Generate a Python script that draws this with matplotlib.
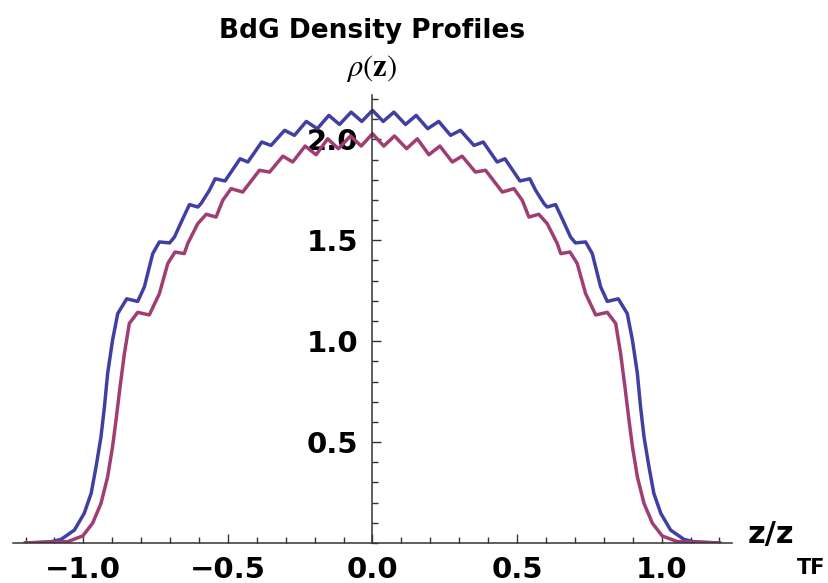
import numpy as np
import matplotlib
matplotlib.use("Agg")
import matplotlib.pyplot as plt
from matplotlib.ticker import MultipleLocator, FixedLocator

plt.rcParams['mathtext.fontset'] = 'stix'

# right half of each profile (the plot is symmetric in z)
z_blue = [0.000, 0.037, 0.074, 0.114, 0.151, 0.191, 0.229, 0.270, 0.304, 0.351,
          0.383, 0.431, 0.458, 0.510, 0.544, 0.564, 0.593, 0.604, 0.633, 0.656,
          0.685, 0.702, 0.737, 0.760, 0.789, 0.812, 0.850, 0.881, 0.899, 0.916,
          0.927, 0.939, 0.956, 0.973, 0.997, 1.031, 1.077, 1.112, 1.200]
rho_blue = [2.144, 2.089, 2.135, 2.074, 2.119, 2.053, 2.089, 2.020, 2.045, 1.970,
            1.987, 1.888, 1.904, 1.794, 1.805, 1.748, 1.682, 1.665, 1.677, 1.607,
            1.516, 1.487, 1.492, 1.434, 1.269, 1.197, 1.210, 1.137, 1.005, 0.840,
            0.675, 0.526, 0.378, 0.246, 0.147, 0.064, 0.018, 0.006, 0.000]

z_red = [0.000, 0.039, 0.076, 0.118, 0.155, 0.195, 0.233, 0.276, 0.310, 0.356,
         0.391, 0.449, 0.489, 0.518, 0.541, 0.575, 0.604, 0.639, 0.651, 0.683,
         0.708, 0.737, 0.772, 0.812, 0.841, 0.858, 0.873, 0.887, 0.899, 0.916,
         0.939, 0.968, 1.002, 1.054, 1.200]
rho_red = [2.028, 1.967, 2.017, 1.954, 2.003, 1.924, 1.967, 1.888, 1.917, 1.838,
           1.847, 1.739, 1.756, 1.698, 1.615, 1.629, 1.583, 1.484, 1.434, 1.442,
           1.385, 1.236, 1.130, 1.143, 1.088, 0.939, 0.774, 0.609, 0.477, 0.328,
           0.196, 0.098, 0.035, 0.007, 0.000]

x_major = [-1.0, -0.5, 0.0, 0.5, 1.0]
x_labels = ['\u22121.0', '\u22120.5', '0.0', '0.5', '1.0']
y_major = [0.5, 1.0, 1.5, 2.0]
y_labels = ['0.5', '1.0', '1.5', '2.0']


def full(z, r):
    z = np.array(z)
    r = np.array(r)
    return np.concatenate([-z[::-1], z[1:]]), np.concatenate([r[::-1], r[1:]])


fig = plt.figure(figsize=(8.29, 5.83), dpi=100)
ax = fig.add_axes([12.5 / 829, 40 / 583, 720 / 829, 448 / 583])

zb, rb = full(z_blue, rho_blue)
zr, rr = full(z_red, rho_red)
ax.plot(zb, rb, color='#4040a3', lw=2.5, solid_joinstyle='round')
ax.plot(zr, rr, color='#a03e74', lw=2.5, solid_joinstyle='round')

ax.set_xlim(-1.245, 1.245)
ax.set_ylim(0, 2.22)

for s in ['top', 'right']:
    ax.spines[s].set_visible(False)
ax.spines['left'].set_position(('data', 0))
ax.spines['bottom'].set_position(('data', 0))
for s in ['left', 'bottom']:
    ax.spines[s].set_color('#333333')
    ax.spines[s].set_linewidth(1.1)

ax.xaxis.set_major_locator(FixedLocator(x_major))
ax.set_xticklabels(x_labels)
ax.xaxis.set_minor_locator(MultipleLocator(0.1))
ax.yaxis.set_major_locator(FixedLocator(y_major))
ax.set_yticklabels(y_labels)
ax.yaxis.set_minor_locator(MultipleLocator(0.1))

ax.tick_params(which='both', direction='in', color='#333333', width=1.0)
ax.tick_params(which='major', length=6.5, labelsize=21)
ax.tick_params(which='minor', length=4.5)
ax.tick_params(axis='x', which='major', pad=9)
ax.tick_params(axis='y', which='major', pad=10)
for lab in ax.get_xticklabels() + ax.get_yticklabels():
    lab.set_fontweight('bold')

# title and axis labels, Mathematica style
fig.text(372 / 829, 1 - 38 / 583, 'BdG Density Profiles', ha='center', va='baseline',
         fontsize=19, fontweight='bold')
fig.text(372 / 829, 1 - 76 / 583, r'$\rho(\mathbf{z})$', ha='center', va='baseline',
         fontsize=22)
fig.text(748 / 829, 1 - 543 / 583, 'z/z', ha='left', va='baseline',
         fontsize=22, fontweight='bold')
fig.text(797 / 829, 1 - 574 / 583, 'TF', ha='left', va='baseline',
         fontsize=15, fontweight='bold')

fig.savefig('out.png', dpi=100)
